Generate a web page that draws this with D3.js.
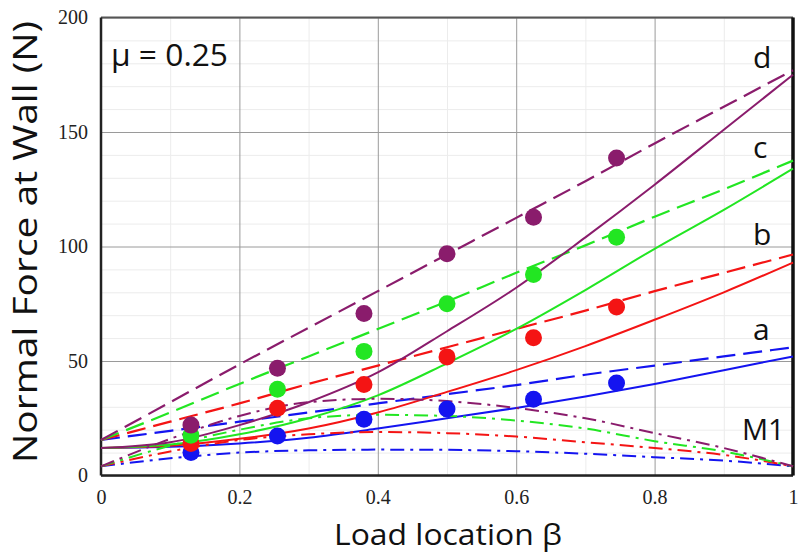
<!DOCTYPE html>
<html>
<head>
<meta charset="utf-8">
<script src="https://cdn.jsdelivr.net/npm/d3@7"></script>
<style>
  body { margin: 0; background: #fff; }
  text { font-family: "Open Sans", "Noto Sans", sans-serif; }
  .tick text { font-family: "Liberation Serif", "DejaVu Serif", serif; }
</style>
</head>
<body>
<svg id="chart" width="798" height="555"></svg>
<script>
// beta values the curves were read at
const betaGrid = [0, 0.1, 0.2, 0.3, 0.4, 0.5, 0.6, 0.7, 0.8, 0.9, 1.0];
// beta of measured points
const dotBeta = [0.13, 0.255, 0.38, 0.5, 0.625, 0.745];

// dashed curves (upper model)
const dashedA = [15.5, 19.5, 23.5, 27.5, 31.5, 35.5, 39.5, 44, 48, 52, 56];
const dashedB = [15.5, 23.5, 31.5, 40, 48, 56, 64, 72, 80.5, 88.5, 96.5];
const dashedC = [15.5, 27.5, 40, 52, 64, 76, 88.5, 100.5, 113, 125, 137.5];
const dashedD = [15.5, 32, 48.5, 64.5, 80.5, 96.5, 112.5, 128.5, 145, 161, 177];

// solid curves
const solidA = [12, 12.5, 14, 16.5, 20.5, 25, 29.5, 34.5, 40, 46, 52];
const solidB = [12, 13, 16, 20.5, 27.5, 36.5, 46, 56.5, 68, 80, 93];
const solidC = [12, 13.5, 18, 25, 35, 49, 64, 81, 99, 116, 134];
const solidD = [12, 14.5, 22, 32, 45, 63, 82, 104, 127, 151, 175];

// dash-dot curves (M1)
const m1A = [4, 7.5, 10, 11, 11.3, 11.2, 10.6, 9.5, 8, 6.5, 4];
const m1B = [4, 10.5, 15.5, 18, 19, 18.5, 17, 14.5, 12, 9, 4];
const m1C = [4, 13, 20, 25, 26.5, 26, 24, 20.5, 15, 10.5, 4];
const m1D = [4, 16, 26, 32, 33.5, 32.5, 29.5, 25, 18.5, 12, 4];

// measured points
const dotsA = [10, 17.2, 24.6, 29, 33.3, 40.4];
const dotsB = [14, 29.4, 39.7, 51.8, 60.2, 73.6];
const dotsC = [17.6, 37.7, 54.2, 75, 87.8, 104];
const dotsD = [22, 46.8, 70.7, 96.8, 112.8, 138.6];

const seriesKeys = ["a", "b", "c", "d"];
const xTicks = [0, 0.2, 0.4, 0.6, 0.8, 1];
const xTickLabels = ["0", "0.2", "0.4", "0.6", "0.8", "1"];
const yTicks = [0, 50, 100, 150, 200];
const xMinor = [0.1, 0.3, 0.5, 0.7, 0.9];
const yMinor = [10, 20, 30, 40, 60, 70, 80, 90, 110, 120, 130, 140, 160, 170, 180, 190];

const colors = {a: "#1414f0", b: "#f41414", c: "#22e622", d: "#8a1c6c"};

const margin = {top: 17.5, right: 5, bottom: 79.5, left: 101},
      width = 798 - margin.left - margin.right,
      height = 555 - margin.top - margin.bottom;

const svg = d3.select("#chart")
  .append("g")
    .attr("transform", `translate(${margin.left},${margin.top})`);

const x = d3.scaleLinear().domain([0, 1]).range([0, width]);
const y = d3.scaleLinear().domain([0, 200]).range([height, 0]);

// minor grid
svg.append("g")
    .attr("transform", `translate(0,${height})`)
    .call(d3.axisBottom(x).tickValues(xMinor).tickSize(-height).tickFormat(""))
    .call(g => g.select(".domain").remove())
    .call(g => g.selectAll("line").attr("stroke", "#ececec"));
svg.append("g")
    .call(d3.axisLeft(y).tickValues(yMinor).tickSize(-width).tickFormat(""))
    .call(g => g.select(".domain").remove())
    .call(g => g.selectAll("line").attr("stroke", "#ececec"));

// major grid + labels
svg.append("g")
    .attr("transform", `translate(0,${height})`)
    .call(d3.axisBottom(x).tickValues(xTicks).tickSize(-height).tickPadding(14)
      .tickFormat((d, i) => xTickLabels[i]))
    .call(g => g.select(".domain").remove())
    .call(g => g.selectAll("line").attr("stroke", "#9a9a9a"))
    .call(g => g.selectAll("text").attr("fill", "#222").style("font-size", "20px"));
svg.append("g")
    .call(d3.axisLeft(y).tickValues(yTicks).tickSize(-width).tickPadding(13))
    .call(g => g.select(".domain").remove())
    .call(g => g.selectAll("line").attr("stroke", "#9a9a9a"))
    .call(g => g.selectAll("text").attr("fill", "#222").style("font-size", "20px"));

// frame
svg.append("line").attr("x1", 0).attr("x2", width).attr("y1", 0).attr("y2", 0)
    .attr("stroke", "#555").attr("stroke-width", 2);
svg.append("line").attr("x1", 0).attr("x2", width).attr("y1", height).attr("y2", height)
    .attr("stroke", "#222").attr("stroke-width", 2.5);
svg.append("line").attr("x1", 0).attr("x2", 0).attr("y1", 0).attr("y2", height)
    .attr("stroke", "#222").attr("stroke-width", 2.5);
svg.append("line").attr("x1", width).attr("x2", width).attr("y1", 0).attr("y2", height)
    .attr("stroke", "#111").attr("stroke-width", 3.5);

const line = d3.line()
    .x((d, i) => x(betaGrid[i]))
    .y(d => y(d))
    .curve(d3.curveMonotoneX);

const curves = [
  {key: "a", dashed: dashedA, solid: solidA, m1: m1A, dots: dotsA},
  {key: "b", dashed: dashedB, solid: solidB, m1: m1B, dots: dotsB},
  {key: "c", dashed: dashedC, solid: solidC, m1: m1C, dots: dotsC},
  {key: "d", dashed: dashedD, solid: solidD, m1: m1D, dots: dotsD}
];

const plot = svg.append("g");

curves.forEach(c => {
  plot.append("path").datum(c.m1)
      .attr("fill", "none").attr("stroke", colors[c.key]).attr("stroke-width", 2)
      .attr("stroke-dasharray", "14,6,3,6")
      .attr("d", line);
  plot.append("path").datum(c.solid)
      .attr("fill", "none").attr("stroke", colors[c.key]).attr("stroke-width", 2)
      .attr("d", line);
  plot.append("path").datum(c.dashed)
      .attr("fill", "none").attr("stroke", colors[c.key]).attr("stroke-width", 2.2)
      .attr("stroke-dasharray", "19,8")
      .attr("d", line);
});

curves.forEach(c => {
  plot.selectAll(null)
    .data(c.dots)
    .join("circle")
      .attr("cx", (d, i) => x(dotBeta[i]))
      .attr("cy", d => y(d))
      .attr("r", 8.5)
      .attr("fill", colors[c.key]);
});

// curve labels
const labelY = {a: 340, b: 245, c: 158, d: 68, M1: 440};
["a", "b", "c", "d"].forEach(k => {
  d3.select("#chart").append("text")
      .attr("x", 753).attr("y", labelY[k])
      .style("font-size", "30px").attr("fill", "#111")
      .text(k);
});
d3.select("#chart").append("text")
    .attr("x", 742).attr("y", labelY.M1)
    .style("font-size", "29px").attr("fill", "#111")
    .text("M1");

d3.select("#chart").append("text")
    .attr("x", 111).attr("y", 66)
    .style("font-size", "31px").attr("fill", "#111")
    .attr("textLength", 117).attr("lengthAdjust", "spacingAndGlyphs")
    .text("μ = 0.25");

// axis titles
d3.select("#chart").append("text")
    .attr("x", 448).attr("y", 545)
    .attr("text-anchor", "middle")
    .style("font-size", "30px").attr("fill", "#111")
    .attr("textLength", 228).attr("lengthAdjust", "spacingAndGlyphs")
    .text("Load location β");

d3.select("#chart").append("text")
    .attr("transform", "translate(37,242) rotate(-90)")
    .attr("text-anchor", "middle")
    .style("font-size", "32px").attr("fill", "#111")
    .attr("textLength", 442).attr("lengthAdjust", "spacingAndGlyphs")
    .text("Normal Force at Wall (N)");
</script>
</body>
</html>
